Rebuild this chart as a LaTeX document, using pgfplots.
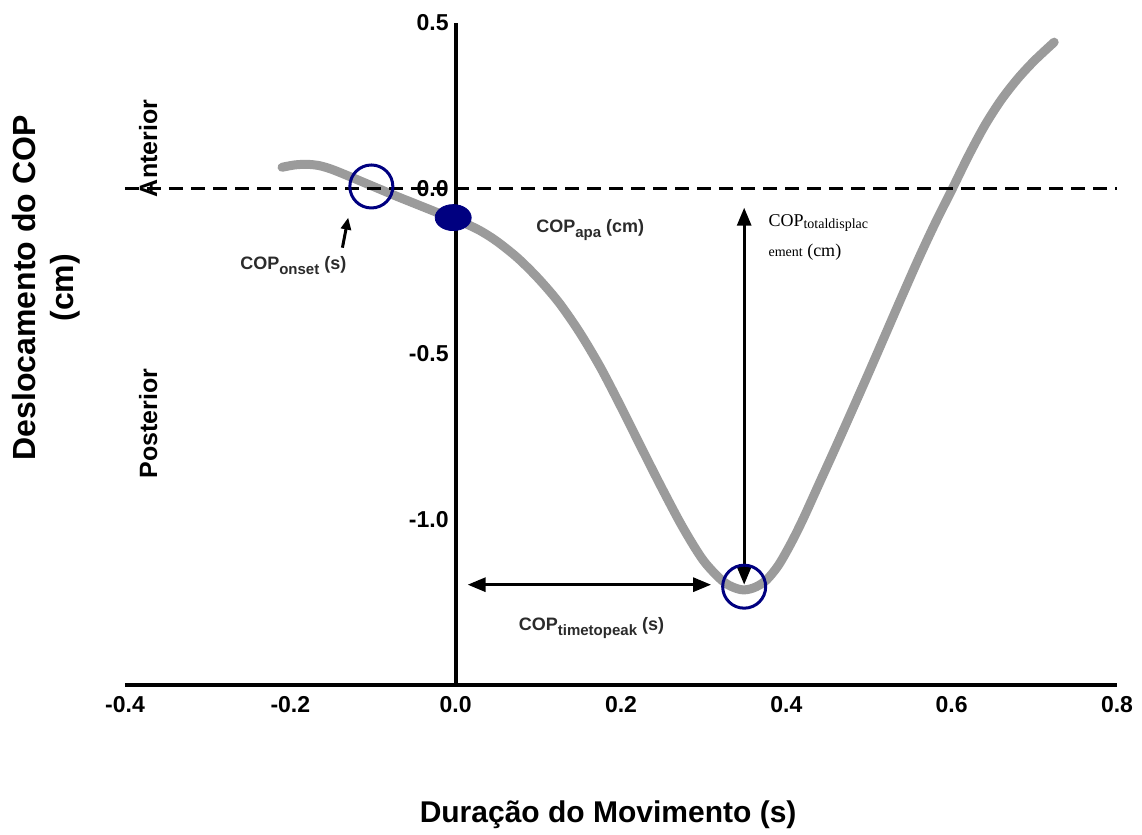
\documentclass[border=0pt]{standalone}
\usepackage{pgfplots}
\pgfplotsset{compat=1.18}
\usepackage{fontspec}
\setmainfont{Liberation Sans}
\newfontfamily\seriffont{Liberation Serif}
\usetikzlibrary{arrows.meta}
\definecolor{navy}{HTML}{000080}
\definecolor{curvegray}{HTML}{9B9B9B}
\definecolor{txt}{HTML}{2B2B2B}
\newcommand\sub[1]{\raisebox{-2.6pt}{\fontsize{7.5}{8}\selectfont #1}}
\newcommand\ssub[1]{\raisebox{-0.8pt}{\fontsize{7}{8}\selectfont #1}}

\begin{document}
\begin{tikzpicture}
\begin{axis}[
  scale only axis, width=496pt, height=331pt,
  xmin=-0.4, xmax=0.8, ymin=-1.5, ymax=0.5,
  axis x line=bottom, axis y line=middle,
  axis line style={-, line width=2pt, black},
  every inner y axis line/.append style={-},
  hide obscured x ticks=false, hide obscured y ticks=false,
  xtick={-0.4,-0.2,0,0.2,0.4,0.6,0.8},
  xticklabels={-0.4,-0.2,0.0,0.2,0.4,0.6,0.8},
  ytick={-1,-0.5,0,0.5},
  yticklabels={-1.0,-0.5,0.0,0.5},
  major tick length=0pt,
  tick label style={font=\bfseries\fontsize{11.5}{13}\selectfont, black},
  xticklabel style={yshift=-2pt},
  clip=false,
]
% COP trajectory
\addplot[curvegray, line width=4.5pt, smooth, line cap=round] coordinates {
(-0.210,0.064) (-0.195,0.071) (-0.180,0.073) (-0.165,0.069) (-0.150,0.058)
(-0.130,0.038) (-0.110,0.017) (-0.090,-0.004) (-0.070,-0.025) (-0.050,-0.045)
(-0.030,-0.065) (-0.010,-0.085) (0.010,-0.104) (0.030,-0.128) (0.050,-0.160)
(0.075,-0.210) (0.100,-0.272) (0.125,-0.345) (0.150,-0.435) (0.175,-0.540)
(0.200,-0.660) (0.225,-0.785) (0.250,-0.908) (0.275,-1.025) (0.300,-1.125)
(0.325,-1.190) (0.345,-1.212) (0.360,-1.207) (0.375,-1.185) (0.390,-1.140)
(0.405,-1.075) (0.420,-1.000) (0.440,-0.890) (0.460,-0.780) (0.480,-0.668)
(0.500,-0.555) (0.520,-0.440) (0.540,-0.325) (0.560,-0.212) (0.580,-0.105)
(0.600,-0.005) (0.620,0.097) (0.640,0.190) (0.660,0.268) (0.680,0.332)
(0.700,0.386) (0.724,0.442)
};
% zero line
\addplot[black, line width=1.5pt, dash pattern=on 7pt off 4pt] coordinates {(-0.4,0) (0.8,0)};
% open circles
\addplot[only marks, mark=o, mark size=10.75pt, mark options={navy, line width=1.5pt}] coordinates {(-0.102,0.006) (0.349,-1.203)};
% filled ellipse
\addplot[only marks, mark=*, mark size=6.5pt, mark options={navy, fill=navy, xscale=1.385}] coordinates {(-0.003,-0.088)};
% arrows
\draw[line width=1.5pt, {Triangle[length=9pt,width=7pt]}-{Triangle[length=9pt,width=7pt]}] (axis cs:0.0145,-1.197) -- (axis cs:0.309,-1.197);
\draw[line width=1.5pt, {Triangle[length=9pt,width=7pt]}-{Triangle[length=9pt,width=7pt]}] (axis cs:0.349,-0.058) -- (axis cs:0.349,-1.197);
\draw[line width=1.5pt, -{Triangle[length=6pt,width=5pt]}] (axis cs:-0.137,-0.179) -- (axis cs:-0.130,-0.088);
% annotations
\node[anchor=base west, inner sep=0, txt, font=\bfseries\fontsize{9}{11}\selectfont] at (axis cs:-0.261,-0.245) {COP\sub{onset} (s)};
\node[anchor=base west, inner sep=0, txt, font=\bfseries\fontsize{9}{11}\selectfont] at (axis cs:0.097,-0.133) {COP\sub{apa} (cm)};
\node[anchor=base west, inner sep=0, txt, font=\bfseries\fontsize{9}{11}\selectfont] at (axis cs:0.076,-1.336) {COP\sub{timetopeak} (s)};
\node[anchor=base west, inner sep=0, black, font=\seriffont\fontsize{9}{11}\selectfont] at (axis cs:0.378,-0.115) {COP\ssub{totaldisplac}};
\node[anchor=base west, inner sep=0, black, font=\seriffont\fontsize{9}{11}\selectfont] at (axis cs:0.378,-0.206) {{\fontsize{7}{8}\selectfont ement} (cm)};
\node[rotate=90, anchor=center, font=\bfseries\fontsize{12.5}{14}\selectfont] at (axis cs:-0.372,0.121) {Anterior};
\node[rotate=90, anchor=center, font=\bfseries\fontsize{12.5}{14}\selectfont] at (axis cs:-0.372,-0.71) {Posterior};
% axis labels
\node[rotate=90, anchor=center, align=center, font=\bfseries\fontsize{16}{19}\selectfont] at (axis description cs:-0.0796,0.600) {Deslocamento do COP\\(cm)};
\node[anchor=base, font=\bfseries\fontsize{15}{18}\selectfont] at (axis description cs:0.487,-0.207) {Duração do Movimento (s)};
% bounding box
\path (axis description cs:-0.126,-0.2175) rectangle (axis description cs:1.0252,1.0347);
\end{axis}
\end{tikzpicture}
\end{document}
